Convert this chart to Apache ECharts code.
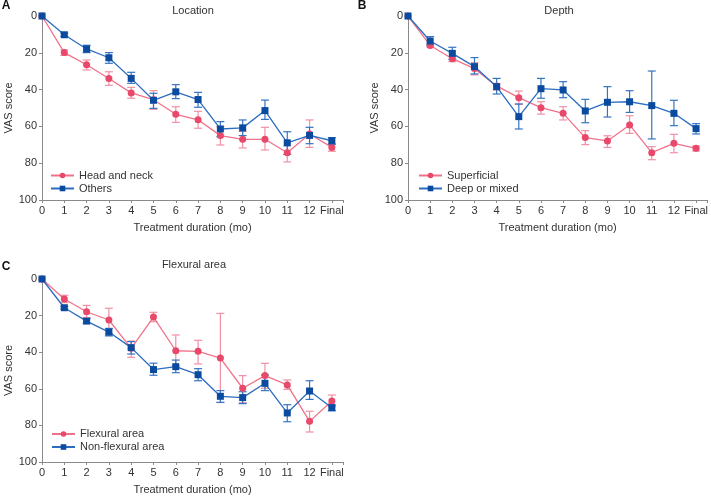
<!DOCTYPE html>
<html>
<head>
<meta charset="utf-8">
<script src="https://cdn.jsdelivr.net/npm/echarts@6/dist/echarts.min.js"></script>
<style>
html,body{margin:0;padding:0;background:#fff;}
#chart{width:711px;height:499px;}
</style>
</head>
<body>
<div id="chart"></div>
<script>
// ---- Data ----
var xLabels = ['0','1','2','3','4','5','6','7','8','9','10','11','12','Final'];

// Panel A: Location
var headMean = [0,19.9,26.5,34,41.8,45.5,53.4,56.4,65,67,67,74.3,64.1,71.4];
var headLow  = [0,18.5,23.9,30.3,38.8,40.6,49.3,51.8,60.1,62.7,60.5,70.5,56.5,69.7];
var headHigh = [0,21.4,29.3,37.7,44.7,50.7,57.8,61,70.1,71.7,72.8,79.3,71.4,73.5];
var othersMean = [0,10.2,17.9,22.7,33.9,45.8,41.2,45.4,61.4,60.8,51.4,68.9,64.9,67.8];
var othersLow  = [0,9.3,15.9,19.9,30.6,42,37.3,41.5,57.4,56.5,45.7,62.9,60.5,66.1];
var othersHigh = [0,11.1,19.9,25.7,36.6,50.2,44.9,49.6,65.6,65,56.2,75.2,69.4,69.7];

// Panel B: Depth
var supMean = [0,16,23.2,28.6,38,44.4,49.8,52.9,66.1,67.9,59.2,74.3,69.2,71.9];
var supLow  = [0,15.2,22.1,25.4,37,40.8,46.6,49.3,62.3,65.1,54.2,71,64.3,70.7];
var supHigh = [0,16.9,24.8,32,40.2,48,53.3,56.5,69.9,71.4,63.8,78.1,74.3,73.4];
var deepMean = [0,13.6,20.3,27.5,38.4,54.7,39.5,40.2,51.6,46.9,46.6,48.7,52.9,61.2];
var deepLow  = [0,11.2,17,22.6,33.9,47.8,33.9,35.7,45.3,38.4,40.6,29.9,45.8,58.5];
var deepHigh = [0,15.8,23.6,31.5,42.4,61.4,44.7,44.4,58,54.9,52.4,66.8,59.6,64.1];

// Panel C: Flexural area
var flexMean = [0,10.9,17.9,22.4,37.9,20.8,39.2,39.5,43.2,59.7,52.8,57.9,77.8,66.7];
var flexLow  = [0,8.9,14.4,16,33.9,18.2,30.6,33.5,18.8,52.8,46.1,55.2,72.3,63.4];
var flexHigh = [0,12.9,21.1,29.9,42.8,23.3,47.5,46.4,67.5,67.6,59.7,60.3,83.6,69.8];
var nonMean = [0,15.7,23,29,37.5,49.5,47.9,52.3,64.1,64.8,57,73.2,61.2,70.3];
var nonLow  = [0,15,21.7,27,34.2,46,44.3,49,61,61.6,52.5,68.7,55.6,68.9];
var nonHigh = [0,16.4,24.2,31.1,41,52.6,51.2,55.6,67.4,68.1,61,78,65.8,72];

var yTicks = [0,20,40,60,80,100];

// ---- Styles ----
var FONT = '"Liberation Sans", Arial, Helvetica, sans-serif';
var RED_M = '#E8486A', RED_L = '#F0728A', RED_E = '#F290A4';
var BLUE_M = '#0A4B9F', BLUE_L = '#2C6DC0', BLUE_E = '#3574C2';

var chart = echarts.init(document.getElementById('chart'), null, {renderer:'canvas'});

var grids = [
  {left:42, top:16, width:301, height:184},
  {left:408, top:16, width:301, height:184},
  {left:42, top:279, width:301, height:183}
];

function xAxisCfg(gi){
  return {
    type:'value', gridIndex:gi, min:0, max:13.5, interval:1,
    name:'Treatment duration (mo)', nameLocation:'middle', nameGap:22,
    nameTextStyle:{fontFamily:FONT, fontSize:11, color:'#333'},
    axisLine:{onZero:false, lineStyle:{color:'#8a8a8a', width:1}},
    axisTick:{length:3, lineStyle:{color:'#8a8a8a'}},
    axisLabel:{margin:5, fontFamily:FONT, fontSize:11, color:'#333',
      showMaxLabel:true, showMinLabel:true,
      formatter:function(v){ var i = Math.round(v); return (Math.abs(v-i)<1e-6 && xLabels[i]!==undefined) ? xLabels[i] : ''; }},
    splitLine:{show:false}
  };
}
function yAxisCfg(gi){
  return {
    type:'value', gridIndex:gi, min:0, max:100, interval:20, inverse:true,
    name:'VAS score', nameLocation:'middle', nameGap:27,
    nameTextStyle:{fontFamily:FONT, fontSize:11, color:'#333'},
    axisLine:{show:true, lineStyle:{color:'#8a8a8a', width:1}},
    axisTick:{show:true, length:3, lineStyle:{color:'#8a8a8a'}},
    axisLabel:{margin:5, fontFamily:FONT, fontSize:11, color:'#333',
      formatter:function(v){ return yTicks.indexOf(v)>=0 ? String(v) : ''; }},
    splitLine:{show:false}
  };
}

function lineSeries(name, gi, mean, symbol, mColor, lColor){
  return {
    type:'line', name:name, xAxisIndex:gi, yAxisIndex:gi,
    data: mean.map(function(v,i){ return [i, v]; }),
    symbol:symbol, symbolSize:7, showSymbol:true,
    itemStyle:{color:mColor, borderWidth:0},
    lineStyle:{color:lColor, width:1.3},
    z:5, animation:false
  };
}
function errSeries(name, gi, low, high, color){
  return {
    type:'custom', name:name, xAxisIndex:gi, yAxisIndex:gi,
    data: low.map(function(v,i){ return [i, v, high[i]]; }).filter(function(d){ return d[2]-d[1] > 0; }),
    renderItem:function(params, api){
      var lo = api.coord([api.value(0), api.value(1)]);
      var hi = api.coord([api.value(0), api.value(2)]);
      var cw = 4;
      var st = {stroke:color, lineWidth:1.2};
      return {type:'group', children:[
        {type:'line', shape:{x1:lo[0], y1:lo[1], x2:hi[0], y2:hi[1]}, style:st},
        {type:'line', shape:{x1:lo[0]-cw, y1:lo[1], x2:lo[0]+cw, y2:lo[1]}, style:st},
        {type:'line', shape:{x1:hi[0]-cw, y1:hi[1], x2:hi[0]+cw, y2:hi[1]}, style:st}
      ]};
    },
    z:3, animation:false, silent:true
  };
}

function legendCfg(names, left, top){
  return {
    data:names, orient:'vertical', left:left, top:top, itemGap:0,
    itemWidth:23, itemHeight:7, padding:0,
    textStyle:{fontFamily:FONT, fontSize:11, color:'#333', lineHeight:13},
    selectedMode:false
  };
}

function txt(x, y, s, size, bold){
  return {type:'text', left:null, x:x, y:y, style:{text:s, x:0, y:0, fontFamily:FONT, fontSize:size, fontWeight:bold?'bold':'normal', fill:bold?'#111':'#333', textAlign:'center', textVerticalAlign:'middle'}};
}

var option = {
  backgroundColor:'#fff',
  animation:false,
  grid: grids,
  xAxis: [xAxisCfg(0), xAxisCfg(1), xAxisCfg(2)],
  yAxis: [yAxisCfg(0), yAxisCfg(1), yAxisCfg(2)],
  legend: [
    legendCfg(['Head and neck','Others'], 50, 169),
    legendCfg(['Superficial','Deep or mixed'], 418, 169),
    legendCfg(['Flexural area','Non-flexural area'], 51, 427.5)
  ],
  graphic: [
    txt(193, 11, 'Location', 11, false),
    txt(559, 11, 'Depth', 11, false),
    txt(194, 265, 'Flexural area', 11, false),
    txt(6, 6, 'A', 12, true),
    txt(362, 6, 'B', 12, true),
    txt(6, 267, 'C', 12, true)
  ],
  series: [
    errSeries('Head and neck err', 0, headLow, headHigh, RED_E),
    errSeries('Others err', 0, othersLow, othersHigh, BLUE_E),
    lineSeries('Head and neck', 0, headMean, 'circle', RED_M, RED_L),
    lineSeries('Others', 0, othersMean, 'rect', BLUE_M, BLUE_L),

    errSeries('Superficial err', 1, supLow, supHigh, RED_E),
    errSeries('Deep or mixed err', 1, deepLow, deepHigh, BLUE_E),
    lineSeries('Superficial', 1, supMean, 'circle', RED_M, RED_L),
    lineSeries('Deep or mixed', 1, deepMean, 'rect', BLUE_M, BLUE_L),

    errSeries('Flexural area err', 2, flexLow, flexHigh, RED_E),
    errSeries('Non-flexural area err', 2, nonLow, nonHigh, BLUE_E),
    lineSeries('Flexural area', 2, flexMean, 'circle', RED_M, RED_L),
    lineSeries('Non-flexural area', 2, nonMean, 'rect', BLUE_M, BLUE_L)
  ]
};
chart.setOption(option);
</script>
</body>
</html>
